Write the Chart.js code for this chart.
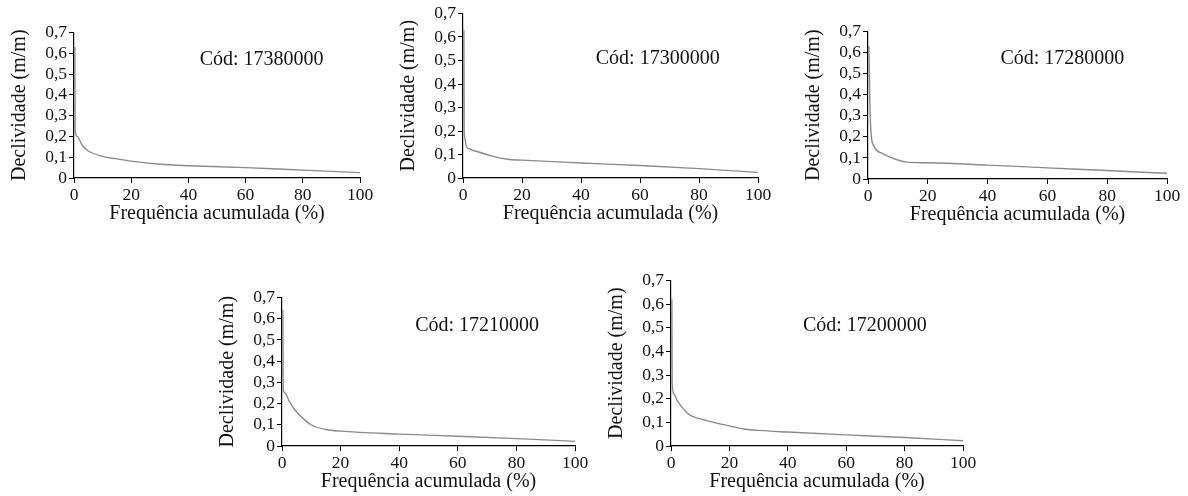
<!DOCTYPE html>
<html>
<head>
<meta charset="utf-8">
<script src="https://cdn.jsdelivr.net/npm/chart.js@4"></script>
<style>
  body { margin: 0; background: #fff; width: 1188px; height: 496px; position: relative; overflow: hidden; }
  canvas { position: absolute; }
</style>
</head>
<body>
<canvas id="g1" width="372" height="208" style="left:6px;top:20px"></canvas>
<canvas id="g2" width="381" height="227" style="left:395px;top:1px"></canvas>
<canvas id="g3" width="385" height="210" style="left:800px;top:19px"></canvas>
<canvas id="g4" width="379" height="211" style="left:214px;top:285px"></canvas>
<canvas id="g5" width="378" height="228" style="left:603px;top:268px"></canvas>
<script>
// estaciones
const codigos = ['17380000', '17300000', '17280000', '17210000', '17200000'];

// frecuencia acumulada (%) y declividad (m/m) por estación
const frec17380000 = [0.3, 0.4, 1, 3, 5, 10, 15, 20, 30, 40, 60, 80, 100];
const decl17380000 = [0.63, 0.235, 0.2, 0.155, 0.13, 0.104, 0.092, 0.081, 0.066, 0.059, 0.05, 0.038, 0.026];

const frec17300000 = [0.3, 0.4, 0.7, 1, 2, 5, 10, 15, 20, 40, 60, 80, 100];
const decl17300000 = [0.63, 0.2, 0.165, 0.14, 0.125, 0.112, 0.093, 0.08, 0.076, 0.064, 0.053, 0.04, 0.024];

const frec17280000 = [0.3, 0.6, 1, 2, 5, 10, 13, 20, 40, 60, 80, 100];
const decl17280000 = [0.63, 0.38, 0.22, 0.155, 0.12, 0.09, 0.08, 0.077, 0.066, 0.053, 0.04, 0.027];

const frec17210000 = [0.3, 0.4, 1, 2.5, 5, 8, 10, 15, 20, 40, 60, 80, 100];
const decl17210000 = [0.64, 0.27, 0.25, 0.21, 0.16, 0.12, 0.099, 0.078, 0.07, 0.056, 0.046, 0.035, 0.022];

const frec17200000 = [0.3, 0.4, 1, 2, 4, 6, 8, 10, 15, 20, 25, 30, 40, 60, 80, 100];
const decl17200000 = [0.62, 0.26, 0.22, 0.195, 0.16, 0.135, 0.122, 0.115, 0.099, 0.085, 0.072, 0.066, 0.059, 0.047, 0.036, 0.022];

// rótulos de los ejes
const rotulosY = ['0', '0,1', '0,2', '0,3', '0,4', '0,5', '0,6', '0,7'];
const rotulosX = ['0', '20', '40', '60', '80', '100'];

const series = [
  [frec17380000, decl17380000],
  [frec17300000, decl17300000],
  [frec17280000, decl17280000],
  [frec17210000, decl17210000],
  [frec17200000, decl17200000]
];

// posición del texto "Cód" (en valores de los ejes)
const posTexto = [[65.6, 0.57], [66, 0.507], [65, 0.57], [66.6, 0.567], [66.4, 0.508]];

const fuenteTicks = { family: 'Liberation Serif', size: 17.5 };
const fuenteTitulo = { family: 'Liberation Serif', size: 20 };

const textoCodigo = {
  id: 'textoCodigo',
  afterDraw(chart, args, opts) {
    const ctx = chart.ctx;
    const x = chart.scales.x.getPixelForValue(opts.pos[0]);
    const y = chart.scales.y.getPixelForValue(opts.pos[1]);
    ctx.save();
    ctx.font = '20px "Liberation Serif"';
    ctx.fillStyle = '#111';
    ctx.textAlign = 'center';
    ctx.textBaseline = 'middle';
    ctx.fillText(opts.texto, x, y);
    ctx.restore();
  }
};

function generarGrafico(i) {
  const ctx = document.getElementById('g' + (i + 1)).getContext('2d');
  const puntos = series[i][0].map((f, k) => ({ x: f, y: series[i][1][k] }));
  return new Chart(ctx, {
    type: 'line',
    data: {
      datasets: [{
        data: puntos,
        borderColor: '#8a8a8a',
        borderWidth: 1.4,
        pointRadius: 0,
        cubicInterpolationMode: 'monotone',
        fill: false
      }]
    },
    plugins: [textoCodigo],
    options: {
      responsive: false,
      animation: false,
      layout: { padding: { top: 12, right: 18, left: 0, bottom: 0 } },
      plugins: {
        legend: { display: false },
        tooltip: { enabled: false },
        textoCodigo: { texto: 'Cód: ' + codigos[i], pos: posTexto[i] }
      },
      scales: {
        x: {
          type: 'linear',
          min: 0, max: 100,
          afterFit: s => { s.height = 50; },
          grid: { drawOnChartArea: false, tickLength: 5, color: '#000' },
          border: { color: '#000', width: 1.2 },
          ticks: {
            stepSize: 20,
            autoSkip: false,
            padding: 2,
            maxRotation: 0,
            color: '#111',
            font: fuenteTicks,
            callback: (v, idx) => rotulosX[idx]
          },
          title: { display: true, text: 'Frequência acumulada (%)', color: '#111', font: fuenteTitulo, padding: { top: 0, bottom: 2 } }
        },
        y: {
          min: 0, max: 0.7,
          afterFit: s => { s.width = 68; },
          grid: { drawOnChartArea: false, tickLength: 5, color: '#000' },
          border: { color: '#000', width: 1.2 },
          ticks: {
            stepSize: 0.1,
            autoSkip: false,
            padding: 2,
            color: '#111',
            font: fuenteTicks,
            callback: (v, idx) => rotulosY[idx]
          },
          title: { display: true, text: 'Declividade (m/m)', color: '#111', font: fuenteTitulo, padding: { top: 2, bottom: 0 } }
        }
      }
    }
  });
}

codigos.forEach((c, i) => generarGrafico(i));
</script>
</body>
</html>
